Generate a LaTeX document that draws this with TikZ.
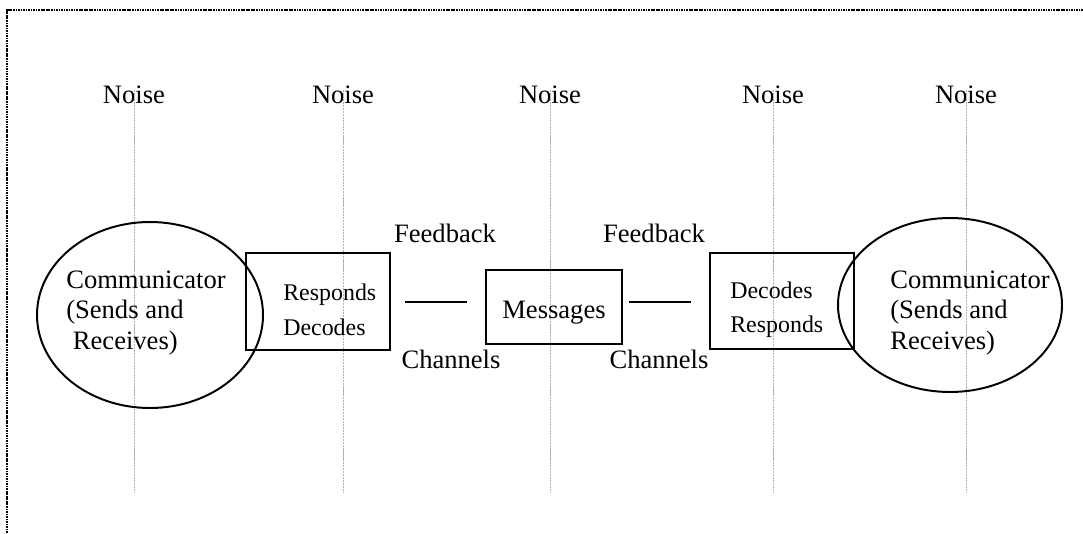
\documentclass[tikz,border=0pt]{standalone}
\usepackage{fontspec}
\setmainfont{Liberation Serif}
\usetikzlibrary{shapes.geometric, positioning}

\begin{document}
\begin{tikzpicture}[x=0.025cm, y=-0.025cm]
\tikzstyle{every node}+=[inner sep=0pt, font=\fontsize{18.9}{22}\selectfont]
\tikzstyle{noiseline}=[gray!60, line width=0.7pt, dash pattern=on 1.5pt off 0.6pt]
\tikzstyle{smalltext}=[font=\fontsize{17}{24.5}\selectfont, align=left]
\tikzstyle{outline}=[black, line width=1.4pt]
\useasboundingbox (0,0) rectangle (1083,533);
% frame
\draw [black, line width=1.2pt, dash pattern=on 1.2pt off 0.6pt] (7,533) -- (7,10) -- (1083,10);
% noise labels and lines
\node (n1) at (134,95) {Noise};
\node (n2) at (343,95) {Noise};
\node (n3) at (550,95) {Noise};
\node (n4) at (773,95) {Noise};
\node (n5) at (966,95) {Noise};
\coordinate (e1) at (134,492);
\coordinate (e2) at (343,492);
\coordinate (e3) at (550,492);
\coordinate (e4) at (773,492);
\coordinate (e5) at (966,492);
\foreach \i in {1,...,5}
  \draw [noiseline] (n\i.south) ++(0,-14) -- (e\i);
% communicators
\draw [outline] (150,315) ellipse (113 and 93);
\node [align=left] (cl) at (146,313) {Communicator\\(Sends and\\\ Receives)};
\draw [outline] (950,305) ellipse (112 and 87);
\node [align=left] (cr) at (970,313) {Communicator\\(Sends and\\Receives)};
% boxes
\node [draw, outline, minimum width=144*0.025cm, minimum height=97*0.025cm] (lbox) at (318,301.5) {};
\node [smalltext, anchor=west] (ltext) at (283,310) {Responds\\Decodes};
\node [draw, outline, minimum width=136*0.025cm, minimum height=74*0.025cm] (msg) at (554,307) {};
\node (mtext) at (554,313) {Messages};
\node [draw, outline, minimum width=144*0.025cm, minimum height=96*0.025cm] (rbox) at (782,301) {};
\node [smalltext, anchor=west] (rtext) at (730,310) {Decodes\\Responds};
% channels
\node (f1) at (445,233) {Feedback};
\node (c1) at (451,359) {Channels};
\node (f2) at (654,233) {Feedback};
\node (c2) at (659,359) {Channels};
\coordinate (a1) at (405,302);
\coordinate (b1) at (467,302);
\coordinate (a2) at (629,302);
\coordinate (b2) at (691,302);
\draw [outline] (a1) -- (b1);
\draw [outline] (a2) -- (b2);
\end{tikzpicture}
\end{document}
